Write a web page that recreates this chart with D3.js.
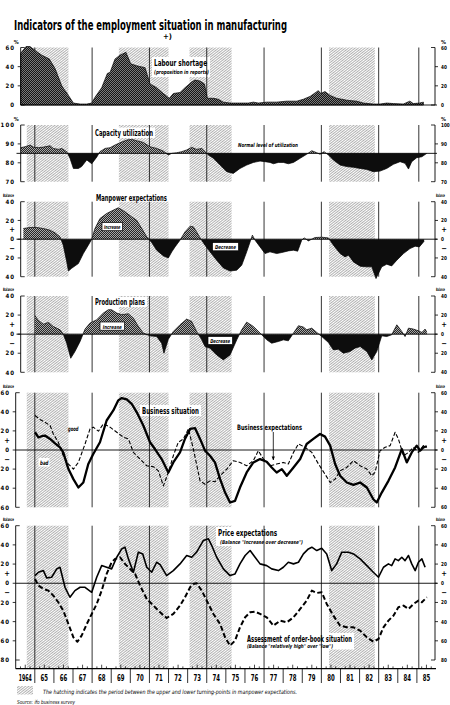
<!DOCTYPE html>
<html>
<head>
<meta charset="utf-8">
<script src="https://d3js.org/d3.v7.min.js"></script>
<style>
  body { margin: 0; background: #fff; }
  svg { display: block; font-family: "DejaVu Sans Condensed", "Liberation Sans Narrow", "Liberation Sans", sans-serif; }
</style>
</head>
<body>
<svg id="chart" width="450" height="705"></svg>
<script>
const YEAR_LABELS = ["1964", "65", "66", "67", "68", "69", "70", "71", "72", "73", "74", "75", "76", "77", "78", "79", "80", "81", "82", "83", "84", "85"];
const CYCLE_LINES = [1965, 1968, 1971, 1974, 1977, 1980, 1983, 1985.1];
const HATCH_PERIODS = [[1964.58, 1966.76], [1969.4, 1972.0], [1973.1, 1975.3], [1980.4, 1982.8]];

const PERCENT_TICKS_LABOUR = [60, 40, 20, 0];
const PERCENT_TICKS_CAPACITY = [100, 90, 80, 70];
const BALANCE_TICKS_40 = [40, 20, 0, -20, -40];
const BALANCE_TICKS_60 = [60, 40, 20, 0, -20, -40, -60];
const BALANCE_TICKS_80 = [60, 40, 20, 0, -20, -40, -60, -80];
const NORMAL_UTILIZATION = 85;

const LABOUR_SHORTAGE = [
  [1964.26, 54], [1964.54, 61], [1964.75, 61], [1965.01, 57], [1965.36, 52], [1965.76, 48], [1966.06, 38], [1966.41, 20],
  [1966.76, 10], [1967.02, 2], [1967.37, 1], [1967.72, 1], [1967.98, 2], [1968.15, 8], [1968.5, 18], [1968.8, 33],
  [1968.94, 34], [1969.2, 48], [1969.46, 52], [1969.77, 55], [1970.02, 43], [1970.33, 41], [1970.77, 39], [1971.03, 22],
  [1971.38, 18], [1971.73, 12], [1972.04, 7], [1972.25, 12], [1972.6, 13], [1972.86, 18], [1973.21, 24], [1973.39, 26],
  [1973.65, 25], [1973.88, 22], [1974.03, 7], [1974.35, 7], [1974.61, 6], [1974.87, 3], [1975.22, 2], [1975.74, 2],
  [1976.18, 2], [1976.44, 3], [1976.7, 2], [1977.14, 3], [1977.66, 3], [1978.18, 4], [1978.71, 4], [1979.06, 6],
  [1979.41, 9], [1979.84, 15], [1979.97, 12], [1980.19, 14], [1980.46, 10], [1980.8, 7], [1981.33, 5], [1981.85, 4],
  [1982.2, 2], [1982.72, 1], [1983.07, 1], [1983.42, 2], [1983.77, 1.5], [1984.29, 1], [1984.63, 4], [1984.81, 1.5],
  [1985.13, 2], [1985.34, 3],
];

const CAPACITY_UTILIZATION = [
  [1964.26, 88], [1964.49, 88.5], [1964.75, 89.4], [1964.92, 88.3], [1965.19, 88], [1965.45, 88.3], [1965.8, 89],
  [1965.97, 87.6], [1966.23, 87.1], [1966.41, 87.6], [1966.67, 85.9], [1966.84, 82.4], [1967.02, 77], [1967.28, 77],
  [1967.45, 78], [1967.72, 81.5], [1967.98, 79.5], [1968.24, 83], [1968.41, 85.9], [1968.68, 87.6], [1968.94, 88],
  [1969.2, 89.4], [1969.46, 90.6], [1969.81, 92], [1970.07, 92.4], [1970.33, 91.7], [1970.68, 90.8], [1971.03, 88.5],
  [1971.38, 87.6], [1971.73, 86.2], [1971.99, 84.1], [1972.17, 85], [1972.43, 85.3], [1972.69, 85.9], [1972.95, 86.8],
  [1973.21, 88.2], [1973.47, 87.1], [1973.74, 87.6], [1973.91, 85.9], [1974.09, 84.1], [1974.35, 82.4], [1974.7, 78.8],
  [1975.05, 75.3], [1975.39, 74.4], [1975.74, 77], [1976.09, 78.8], [1976.44, 80.2], [1976.79, 80.9], [1977.05, 80.6],
  [1977.31, 80.2], [1977.49, 79.5], [1977.75, 80.2], [1978.01, 80.2], [1978.27, 79.5], [1978.54, 80.2], [1978.89, 82.4],
  [1979.23, 84.5], [1979.5, 86.4], [1979.76, 85.3], [1979.93, 84.5], [1980.14, 85.9], [1980.37, 84.1], [1980.63, 81.5],
  [1980.98, 78.8], [1981.33, 78], [1981.68, 77.6], [1982.03, 77], [1982.38, 76.5], [1982.72, 75.3], [1983.07, 75.6],
  [1983.42, 77], [1983.77, 79.2], [1984.12, 80.6], [1984.38, 79.7], [1984.56, 76.7], [1984.73, 80.6], [1984.99, 82.7],
  [1985.26, 83.2], [1985.52, 85],
];

const MANPOWER_EXPECTATIONS = [
  [1964.4, 11.4], [1964.75, 12.5], [1965.1, 12.5], [1965.45, 11.4], [1965.8, 9.6], [1966.06, 6.8], [1966.32, 2.5],
  [1966.49, -6.4], [1966.67, -24], [1966.76, -34], [1966.93, -31], [1967.28, -26], [1967.54, -15.3], [1967.8, -6.4],
  [1967.98, 0], [1968.15, 11.4], [1968.41, 22], [1968.76, 27.4], [1969.11, 31], [1969.37, 33.5], [1969.72, 29.2],
  [1970.07, 23.9], [1970.33, 20.3], [1970.6, 11.4], [1970.86, 2.5], [1971.12, -3.6], [1971.38, -11.7], [1971.73, -17.8],
  [1971.99, -20], [1972.17, -13.5], [1972.34, -8.2], [1972.6, -1.1], [1972.86, 7.8], [1973.13, 13.9], [1973.3, 13.2],
  [1973.47, 7.8], [1973.65, 1.4], [1973.91, -6.4], [1974.17, -13.5], [1974.52, -22.4], [1974.87, -30.6], [1975.22, -34],
  [1975.57, -33], [1975.83, -27.8], [1976.09, -13.5], [1976.27, -2.8], [1976.39, 4.3], [1976.53, -1.1], [1976.79, -8.2],
  [1977.05, -15.3], [1977.31, -13.5], [1977.66, -15.3], [1977.93, -14.2], [1978.27, -12.5], [1978.54, -11.7],
  [1978.76, -12.8], [1978.97, -1.1], [1979.1, 1.4], [1979.32, -1.8], [1979.67, 1.8], [1980.02, 2.1], [1980.37, 1.4],
  [1980.63, -6.4], [1980.98, -15.3], [1981.24, -18.9], [1981.42, -17], [1981.68, -24.2], [1982.03, -28.8],
  [1982.38, -29.5], [1982.64, -29.5], [1982.86, -42], [1983.16, -29.5], [1983.42, -26.7], [1983.68, -28.5],
  [1983.95, -22.4], [1984.3, -15.3], [1984.64, -10], [1984.91, -7.5], [1985.13, -8.2], [1985.38, -2.1],
];

const PRODUCTION_PLANS = [
  [1965.01, 19.3], [1965.19, 14.4], [1965.45, 10.5], [1965.71, 12.3], [1965.97, 8.1], [1966.32, 4.6], [1966.49, 0],
  [1966.67, -9.5], [1966.88, -25.3], [1967.1, -18.3], [1967.37, -7.7], [1967.63, 5.3], [1967.89, 11.6], [1968.24, 15.1],
  [1968.59, 22.1], [1968.85, 25.6], [1969.02, 25.6], [1969.29, 22.1], [1969.55, 20.4], [1969.9, 21.4], [1970.16, 16.8],
  [1970.42, 8.1], [1970.68, 1.1], [1971.03, -1.8], [1971.38, -2.5], [1971.64, -9.5], [1971.76, -20], [1971.99, -5.3],
  [1972.25, 2.8], [1972.6, 9.8], [1972.95, 15.8], [1973.21, 13.3], [1973.47, 2.8], [1973.74, -6], [1973.91, -13],
  [1974.17, -14.7], [1974.52, -21.8], [1974.87, -27], [1975.22, -21.8], [1975.57, -6], [1975.83, 4.6], [1976.09, 12.6],
  [1976.44, 8.1], [1976.79, 1.1], [1977.14, -6], [1977.4, -9.5], [1977.75, -7.7], [1978.01, -6], [1978.27, -7],
  [1978.54, 1.1], [1978.8, 8.8], [1979.06, 7.4], [1979.23, 4.6], [1979.5, 6.3], [1979.76, 1.8], [1980.02, -2.5],
  [1980.37, -8.8], [1980.63, -16.5], [1980.89, -15.8], [1981.15, -20], [1981.5, -18.3], [1981.76, -14.7], [1982.03, -13],
  [1982.38, -18.3], [1982.64, -27], [1982.9, -18.3], [1983.16, -1.8], [1983.42, -2.5], [1983.68, -0.7], [1983.95, 9.8],
  [1984.21, 2.8], [1984.38, -2.5], [1984.56, 6.3], [1984.82, 5.3], [1985.08, 3.5], [1985.26, 1.8], [1985.43, 5.3],
  [1985.52, 2],
];

const BUSINESS_SITUATION = [
  [1965.01, 18.6], [1965.19, 13.3], [1965.36, 14.4], [1965.53, 15.1], [1965.8, 11.6], [1966.06, 7], [1966.32, 2.8],
  [1966.49, -2.5], [1966.76, -20], [1967.02, -30.5], [1967.28, -39.3], [1967.54, -34], [1967.8, -14.7], [1968.06, -4.2],
  [1968.41, 8.1], [1968.76, 30.9], [1969.11, 41.4], [1969.37, 52], [1969.55, 54.4], [1969.81, 53], [1970.07, 48.4],
  [1970.33, 39.7], [1970.68, 25.6], [1971.03, 8.1], [1971.29, 1], [1971.64, -9.5], [1971.99, -23.5], [1972.25, -13],
  [1972.6, -2.5], [1972.86, 11.6], [1973.13, 22.1], [1973.39, 22.8], [1973.65, 11.6], [1973.91, -0.7], [1974.17, -6],
  [1974.43, -13], [1974.7, -30.5], [1974.96, -44.6], [1975.22, -55], [1975.48, -53.3], [1975.74, -39.3], [1976.09, -23.5],
  [1976.44, -13], [1976.79, -9.5], [1977.14, -12.3], [1977.4, -18.3], [1977.66, -23.5], [1977.93, -20], [1978.19, -27],
  [1978.54, -18.3], [1978.89, -9.5], [1979.23, 6.3], [1979.58, 11.6], [1979.93, 16.8], [1980.19, 14], [1980.46, 4.6],
  [1980.72, -14.7], [1980.98, -27], [1981.33, -34], [1981.68, -36.5], [1982.03, -34], [1982.38, -39.3], [1982.72, -51.6],
  [1982.9, -55], [1983.16, -44.6], [1983.51, -32.3], [1983.86, -18.3], [1984.21, 1], [1984.47, -13], [1984.73, -2.5],
  [1984.99, 4.6], [1985.17, -0.7], [1985.34, 2.8], [1985.52, 3.9],
];

const BUSINESS_EXPECTATIONS = [
  [1965.01, 36.1], [1965.27, 32], [1965.53, 29.1], [1965.8, 25.6], [1965.97, 16.8], [1966.23, 8.1], [1966.49, -6],
  [1966.76, -14.7], [1967.02, -20], [1967.28, -13], [1967.63, 6.3], [1967.89, 22.1], [1968.06, 23.9], [1968.33, 19.7],
  [1968.59, 27.4], [1968.94, 23.9], [1969.29, 18.6], [1969.64, 13.3], [1969.9, 11.6], [1970.16, -2.5], [1970.51, -9.5],
  [1970.86, -16.5], [1971.21, -17.5], [1971.47, -21.8], [1971.73, -37.6], [1971.99, -23.5], [1972.25, -6], [1972.51, 8.1],
  [1972.78, 11.6], [1973.04, 22.1], [1973.3, 1], [1973.65, -32.3], [1973.91, -35.8], [1974.17, -32.3], [1974.43, -33.3],
  [1974.7, -27], [1975.05, -20], [1975.39, -11.2], [1975.74, -13], [1976.09, -16.5], [1976.44, -11.2], [1976.7, -0.7],
  [1976.97, -9.5], [1977.31, -16.5], [1977.66, -14.7], [1978.01, -13], [1978.27, -14.7], [1978.54, -2.5], [1978.8, 6.3],
  [1979.15, 2.8], [1979.5, -2.5], [1979.85, -14.7], [1980.19, -25.3], [1980.46, -34], [1980.72, -30.5], [1980.98, -21.8],
  [1981.33, -18.3], [1981.68, -11.2], [1982.03, -16.5], [1982.38, -20], [1982.64, -27], [1982.81, -23.5], [1983.07, -0.7],
  [1983.34, 2.8], [1983.6, 4.6], [1983.86, 18.6], [1984.03, 11.6], [1984.3, -6], [1984.56, -2.5], [1984.82, 2.8],
  [1985.08, -2.5], [1985.34, 4.6], [1985.52, 2.8],
];

const PRICE_EXPECTATIONS = [
  [1965.01, 8], [1965.19, 11.5], [1965.45, 13.2], [1965.62, 5.6], [1965.88, 6.3], [1966.15, 15], [1966.32, 16.7],
  [1966.58, -4.2], [1966.84, -14.6], [1967.1, -7.7], [1967.37, -4.2], [1967.63, -4.2], [1967.98, -9.4], [1968.24, 6.3],
  [1968.5, 18.4], [1968.76, 16.7], [1969.02, 15], [1969.29, 27.1], [1969.55, 35.8], [1969.72, 37.6], [1969.9, 25.4],
  [1970.16, 11.5], [1970.42, 32.4], [1970.65, 30.6], [1970.86, 16.7], [1971.12, 11.5], [1971.38, 21.9], [1971.56, 19.5],
  [1971.9, 8], [1972.25, 13.2], [1972.6, 20.2], [1972.95, 28.9], [1973.21, 27.1], [1973.47, 32.4], [1973.82, 44.5],
  [1974.09, 46.3], [1974.26, 39.3], [1974.52, 27.1], [1974.87, 15], [1975.22, 8], [1975.48, 9.7], [1975.74, 20.2],
  [1976.01, 28.9], [1976.27, 34.1], [1976.53, 27.1], [1976.79, 20.2], [1977.14, 18.4], [1977.4, 15], [1977.75, 13.2],
  [1978.01, 16.7], [1978.27, 21.9], [1978.54, 20.2], [1978.8, 21.9], [1979.06, 30.6], [1979.32, 35.8], [1979.5, 37.6],
  [1979.76, 34.1], [1980.02, 36.5], [1980.28, 30.6], [1980.54, 13.2], [1980.8, 20.2], [1981.07, 32.4], [1981.42, 32.4],
  [1981.68, 30.6], [1982.03, 25.4], [1982.38, 18.4], [1982.72, 11.5], [1982.99, 6.3], [1983.25, 16.7], [1983.51, 20.2],
  [1983.68, 18.4], [1983.86, 25.4], [1984.03, 23.6], [1984.21, 27.1], [1984.38, 23.6], [1984.56, 28.9], [1984.73, 20.2],
  [1984.91, 13.2], [1985.08, 21.9], [1985.26, 25.4], [1985.43, 16.7],
];

const ORDER_BOOK = [
  [1965.01, 4.5], [1965.19, -2.4], [1965.45, -5.9], [1965.71, -7.7], [1965.97, -12.9], [1966.23, -19.8], [1966.49, -28.5],
  [1966.76, -42.5], [1967.02, -56.4], [1967.23, -61], [1967.45, -54.6], [1967.72, -42.5], [1967.98, -32], [1968.24, -21.6],
  [1968.5, -7.7], [1968.76, 9.7], [1969.02, 21.9], [1969.2, 25.4], [1969.46, 27.1], [1969.72, 20.2], [1969.98, 15],
  [1970.25, 9.7], [1970.51, -2.4], [1970.86, -16.4], [1971.21, -23.3], [1971.56, -30.3], [1971.9, -36.2], [1972.25, -32],
  [1972.6, -23.3], [1972.86, -14.6], [1973.13, -4.2], [1973.3, -0.7], [1973.47, 0], [1973.74, -7.7], [1974.0, -18.1],
  [1974.35, -32], [1974.7, -42.5], [1974.96, -56.4], [1975.22, -65], [1975.48, -59.8], [1975.74, -45.9], [1976.01, -35.5],
  [1976.27, -30.3], [1976.53, -29.6], [1976.79, -32], [1977.14, -35.5], [1977.49, -44.2], [1977.84, -39], [1978.19, -40.7],
  [1978.54, -35.5], [1978.89, -26.8], [1979.23, -18.1], [1979.5, -7.7], [1979.76, -10.1], [1980.02, -9.4], [1980.28, -21.6],
  [1980.63, -33.8], [1980.98, -44.2], [1981.33, -45.9], [1981.68, -45.9], [1982.03, -49.4], [1982.38, -56.4],
  [1982.72, -60.9], [1982.99, -58.1], [1983.25, -45.9], [1983.51, -39], [1983.77, -33.8], [1984.03, -25], [1984.3, -23.3],
  [1984.56, -26.8], [1984.82, -21.6], [1985.08, -18.1], [1985.26, -19.8], [1985.52, -14.6],
];

const svg = d3.select("#chart");
const RIGHT = 435;
const x = d3.scaleLinear().domain([1964, 1986]).range([15.7, 436]);
const defs = svg.append("defs");

// diagonal hatching for the manpower turning-point periods
const hatch = defs.append("pattern")
  .attr("id", "hatch")
  .attr("patternUnits", "userSpaceOnUse")
  .attr("width", 2)
  .attr("height", 10)
  .attr("patternTransform", "rotate(52)");
hatch.append("line").attr("x1", 0.5).attr("y1", 0).attr("x2", 0.5).attr("y2", 10)
  .attr("stroke", "#444").attr("stroke-width", 0.42);

function addScreen(id, dark, light) {
  const p = defs.append("pattern").attr("id", id).attr("patternUnits", "userSpaceOnUse").attr("width", 2).attr("height", 2);
  p.append("rect").attr("width", 2).attr("height", 2).attr("fill", dark);
  p.append("rect").attr("width", 1).attr("height", 1).attr("fill", light);
  p.append("rect").attr("x", 1).attr("y", 1).attr("width", 1).attr("height", 1).attr("fill", light);
}
addScreen("screenDark", "#151515", "#7a7a7a");
addScreen("screenMid", "#262626", "#a8a8a8");

defs.append("marker")
  .attr("id", "arrow")
  .attr("viewBox", "0 0 10 10")
  .attr("refX", 9).attr("refY", 5)
  .attr("markerWidth", 5).attr("markerHeight", 5)
  .attr("orient", "auto")
  .append("path").attr("d", "M0,1 L10,5 L0,9 Z").attr("fill", "#000");

function addText(parent, str, px, py, opts = {}) {
  const t = parent.append("text")
    .attr("x", px).attr("y", py)
    .attr("font-size", opts.size || 8)
    .attr("font-weight", opts.weight || "bold")
    .attr("font-style", opts.italic ? "italic" : null)
    .attr("text-anchor", opts.anchor || "start")
    .attr("fill", "#000")
    .text(str);
  if (opts.spacing) t.attr("letter-spacing", opts.spacing);
  if (opts.width) t.attr("textLength", opts.width).attr("lengthAdjust", "spacingAndGlyphs");
  return t;
}

function whiteBox(parent, bx, by, w, h, border) {
  parent.append("rect").attr("x", bx).attr("y", by).attr("width", w).attr("height", h)
    .attr("fill", "#fff")
    .attr("stroke", border ? "#000" : "none")
    .attr("stroke-width", 0.7);
}

const PANELS = [
  { id: "labour", left: 20.7, top: 47.5, bottom: 105, domain: [0, 60], ticks: PERCENT_TICKS_LABOUR, unit: "%", base: 0 },
  { id: "capacity", left: 20.7, top: 125, bottom: 181.7, domain: [70, 100], ticks: PERCENT_TICKS_CAPACITY, unit: "%", base: NORMAL_UTILIZATION },
  { id: "manpower", left: 20.7, top: 201.7, bottom: 276.7, domain: [-40, 40], ticks: BALANCE_TICKS_40, unit: "Balance", base: 0, signs: true },
  { id: "production", left: 20.7, top: 296, bottom: 372.3, domain: [-40, 40], ticks: BALANCE_TICKS_40, unit: "Balance", base: 0, signs: true },
  { id: "business", left: 15.7, top: 392.7, bottom: 507.3, domain: [-60, 60], ticks: BALANCE_TICKS_60, unit: "Balance", base: 0, signs: true },
  { id: "prices", left: 15.7, top: 525.7, bottom: 660, frameBottom: 668.7, domain: [-80, 60], ticks: BALANCE_TICKS_80, unit: "Balance", base: 0, signs: true },
];

function drawHatching(g, p) {
  const frameBottom = p.frameBottom || p.bottom;
  g.append("g").selectAll("rect")
    .data(HATCH_PERIODS)
    .join("rect")
    .attr("x", (d) => Math.max(p.left, x(d[0])))
    .attr("y", p.top)
    .attr("width", (d) => x(d[1]) - Math.max(p.left, x(d[0])))
    .attr("height", frameBottom - p.top)
    .attr("fill", "url(#hatch)");
}

function drawCycleLines(g, p) {
  const frameBottom = p.frameBottom || p.bottom;
  g.append("g").selectAll("line")
    .data(CYCLE_LINES)
    .join("line")
    .attr("x1", (d) => x(d)).attr("x2", (d) => x(d))
    .attr("y1", p.top).attr("y2", frameBottom)
    .attr("stroke", "#000").attr("stroke-width", 0.8);
}

function drawFrame(g, p, y) {
  const frameBottom = p.frameBottom || p.bottom;
  g.append("line").attr("x1", p.left).attr("x2", p.left).attr("y1", p.top).attr("y2", frameBottom)
    .attr("stroke", "#000").attr("stroke-width", 0.9);
  g.append("line").attr("x1", RIGHT).attr("x2", RIGHT).attr("y1", p.top).attr("y2", p.bottom)
    .attr("stroke", "#000").attr("stroke-width", 0.9);

  p.ticks.forEach((v, i) => {
    const edge = i === 0 || i === p.ticks.length - 1;
    const ty = y(v);
    // brackets at the ends, outward ticks between
    g.append("line").attr("x1", p.left).attr("x2", edge ? p.left + 4 : p.left - 3).attr("y1", ty).attr("y2", ty)
      .attr("stroke", "#000").attr("stroke-width", 0.8);
    g.append("line").attr("x1", RIGHT).attr("x2", edge ? RIGHT - 4 : RIGHT + 3).attr("y1", ty).attr("y2", ty)
      .attr("stroke", "#000").attr("stroke-width", 0.8);
    const label = String(Math.abs(v));
    addText(g, label, p.left - 5.5, ty + 2.2, { size: 6, anchor: "end", spacing: 1.1 });
    // the right-hand scale sits at the page edge, so keep it narrow enough to fit
    addText(g, label, RIGHT + 6, ty + 2, { size: 5.5, width: label.length * 2.9 });
  });

  if (p.signs) {
    [[10, "+"], [-10, "\u2212"]].forEach(([v, s]) => {
      addText(g, s, p.left - 8.5, y(v) + 2.5, { size: 7.5, anchor: "middle" });
      addText(g, s, RIGHT + 9, y(v) + 2.5, { size: 7.5, anchor: "middle" });
    });
  }

  if (p.unit === "%") {
    addText(g, "%", p.left - 7, p.top - 4, { size: 5.5 });
    addText(g, "%", RIGHT + 6, p.top - 4, { size: 5.5 });
  } else {
    addText(g, "Balance", 3, p.top - 5, { size: 4.5, width: 11 });
    // squeezed with a transform so the whole word stays inside the page
    addText(g, "Balance", 0, 0, { size: 4.5 })
      .attr("transform", `translate(436, ${p.top - 5}) scale(0.5, 1)`);
  }
}

function drawSplitArea(g, p, y, data, posFill, negFill) {
  const baseY = y(p.base);
  const area = d3.area().x((d) => x(d[0])).y0(baseY).y1((d) => y(d[1]));
  const line = d3.line().x((d) => x(d[0])).y((d) => y(d[1]));
  const upId = `clip-up-${p.id}`;
  const downId = `clip-down-${p.id}`;
  defs.append("clipPath").attr("id", upId).append("rect")
    .attr("x", 0).attr("y", p.top - 20).attr("width", 450).attr("height", baseY - p.top + 20);
  defs.append("clipPath").attr("id", downId).append("rect")
    .attr("x", 0).attr("y", baseY).attr("width", 450).attr("height", 200);
  g.append("path").datum(data).attr("d", area).attr("fill", posFill).attr("clip-path", `url(#${upId})`);
  g.append("path").datum(data).attr("d", area).attr("fill", negFill).attr("clip-path", `url(#${downId})`);
  g.append("path").datum(data).attr("d", line).attr("fill", "none").attr("stroke", "#000").attr("stroke-width", 0.7);
}

function drawBaseline(g, p, y, from, to) {
  g.append("line").attr("x1", from).attr("x2", to).attr("y1", y(p.base)).attr("y2", y(p.base))
    .attr("stroke", "#000").attr("stroke-width", 0.9);
}

function drawLine(g, y, data, width, dash) {
  g.append("path").datum(data)
    .attr("d", d3.line().x((d) => x(d[0])).y((d) => y(d[1])))
    .attr("fill", "none")
    .attr("stroke", "#000")
    .attr("stroke-width", width)
    .attr("stroke-linejoin", "round")
    .attr("stroke-dasharray", dash || null);
}

PANELS.forEach((p) => {
  const g = svg.append("g").attr("class", `panel-${p.id}`);
  const y = d3.scaleLinear().domain(p.domain).range([p.bottom, p.top]);
  drawHatching(g, p);

  if (p.id === "labour") {
    whiteBox(g, 152, 57, 58, 20);
    drawCycleLines(g, p);
    g.append("path").datum(LABOUR_SHORTAGE)
      .attr("d", d3.area().x((d) => x(d[0])).y0(y(0)).y1((d) => y(d[1])))
      .attr("fill", "url(#screenDark)").attr("stroke", "#000").attr("stroke-width", 0.7);
    drawBaseline(g, p, y, p.left, 437);
    addText(g, "Labour shortage", 154, 66, { size: 8, width: 53 });
    addText(g, "(proposition in reports)", 154, 74, { size: 5.5, italic: true, width: 55 });
  }

  if (p.id === "capacity") {
    whiteBox(g, 93, 127.5, 62, 10.5);
    drawCycleLines(g, p);
    drawSplitArea(g, p, y, CAPACITY_UTILIZATION, "url(#screenMid)", "#0d0d0d");
    drawBaseline(g, p, y, 16.5, 437);
    addText(g, "Capacity utilization", 95, 136, { size: 8, width: 58 });
    addText(g, "Normal level of utilization", 238, 146.5, { size: 5.5, italic: true, width: 60 });
  }

  if (p.id === "manpower") {
    drawCycleLines(g, p);
    drawSplitArea(g, p, y, MANPOWER_EXPECTATIONS, "url(#screenMid)", "#0d0d0d");
    drawBaseline(g, p, y, 16.5, 437);
    addText(g, "Manpower expectations", 96, 200.5, { size: 8, width: 71 });
    whiteBox(g, 102, 222.5, 20.5, 8.2, true);
    addText(g, "Increase", 112.2, 229, { size: 5.3, italic: true, anchor: "middle", width: 16.5 });
    whiteBox(g, 212.5, 242.6, 26, 8.2, true);
    addText(g, "Decrease", 225.5, 249.1, { size: 5.3, italic: true, anchor: "middle", width: 21 });
  }

  if (p.id === "production") {
    whiteBox(g, 93, 297, 54, 10);
    drawCycleLines(g, p);
    drawSplitArea(g, p, y, PRODUCTION_PLANS, "url(#screenMid)", "#0d0d0d");
    drawBaseline(g, p, y, 16.5, 437);
    addText(g, "Production plans", 95, 305, { size: 8, width: 50 });
    whiteBox(g, 100, 322, 24.5, 8.2, true);
    addText(g, "Increase", 112.2, 328.5, { size: 5.3, italic: true, anchor: "middle", width: 19 });
    whiteBox(g, 208, 336.5, 24.5, 8, true);
    addText(g, "Decrease", 220.2, 342.9, { size: 5.3, italic: true, anchor: "middle", width: 20 });
  }

  if (p.id === "business") {
    whiteBox(g, 140, 405, 61, 11);
    whiteBox(g, 38.5, 458, 11, 8.5);
    drawCycleLines(g, p);
    drawBaseline(g, p, y, 15.7, 437);
    drawLine(g, y, BUSINESS_EXPECTATIONS, 1.1, "4,2");
    drawLine(g, y, BUSINESS_SITUATION, 2.3);
    addText(g, "Business situation", 142, 414, { size: 8, width: 57 });
    addText(g, "Business expectations", 237, 429.5, { size: 7.5, width: 65 });
    g.append("line").attr("x1", 273.3).attr("x2", 273.3).attr("y1", 432).attr("y2", 460)
      .attr("stroke", "#000").attr("stroke-width", 0.8).attr("marker-end", "url(#arrow)");
    addText(g, "good", 68, 431, { size: 6, italic: true, width: 10.5 });
    addText(g, "bad", 40, 465, { size: 6, italic: true, width: 8.5 });
  }

  if (p.id === "prices") {
    whiteBox(g, 216, 527, 89, 19);
    whiteBox(g, 245, 633, 109, 16.5);
    drawCycleLines(g, p);
    drawBaseline(g, p, y, 15.7, 437);
    drawLine(g, y, ORDER_BOOK, 2, "5,2.6");
    drawLine(g, y, PRICE_EXPECTATIONS, 1.6);
    addText(g, "Price expectations", 218, 536, { size: 8, width: 59 });
    addText(g, "(Balance \"Increase over decrease\")", 220, 544, { size: 5.3, italic: true, width: 83 });
    addText(g, "Assessment of order-book situation", 247, 641.5, { size: 8, width: 105 });
    addText(g, "(Balance \"relatively high\" over \"low\")", 247, 648, { size: 5.3, italic: true, width: 86 });
  }

  drawFrame(g, p, y);
});

// year strip along the bottom
const strip = svg.append("g").attr("class", "year-strip");
const stripTop = 668.7;
strip.append("line").attr("x1", x(1964)).attr("x2", x(1986)).attr("y1", stripTop).attr("y2", stripTop)
  .attr("stroke", "#000").attr("stroke-width", 1.2);
strip.selectAll("line.divider")
  .data(d3.range(1965, 1986))
  .join("line")
  .attr("class", "divider")
  .attr("x1", (d) => x(d)).attr("x2", (d) => x(d))
  .attr("y1", stripTop).attr("y2", 683)
  .attr("stroke", "#000").attr("stroke-width", 0.8);
strip.selectAll("line.minor")
  .data(d3.range(1964, 1986).flatMap((yr) => [yr + 0.25, yr + 0.5, yr + 0.75]))
  .join("line")
  .attr("class", "minor")
  .attr("x1", (d) => x(d)).attr("x2", (d) => x(d))
  .attr("y1", stripTop).attr("y2", (d) => stripTop - ((d % 1) === 0.5 ? 4 : 2.3))
  .attr("stroke", "#000").attr("stroke-width", 0.7);
YEAR_LABELS.forEach((label, i) => {
  addText(strip, label, x(1964 + i + 0.5), 680.5, { size: 8, anchor: "middle", width: label.length === 4 ? 13 : 7.5 });
});

// title and notes
addText(svg, "Indicators of the employment situation in manufacturing", 14, 29.5, { size: 14, width: 273 });
addText(svg, "+)", 163, 38.5, { size: 7.5, width: 9 });

svg.append("rect").attr("x", 17).attr("y", 686).attr("width", 16).attr("height", 8.5).attr("fill", "url(#hatch)");
addText(svg, "The hatching indicates the period between the upper and lower turning-points in manpower expectations.",
  43, 693.5, { size: 6, italic: true, weight: "normal", width: 254 });
addText(svg, "Source: ifo business survey", 17, 703.5, { size: 5.5, italic: true, weight: "normal", width: 58 });
</script>
</body>
</html>
